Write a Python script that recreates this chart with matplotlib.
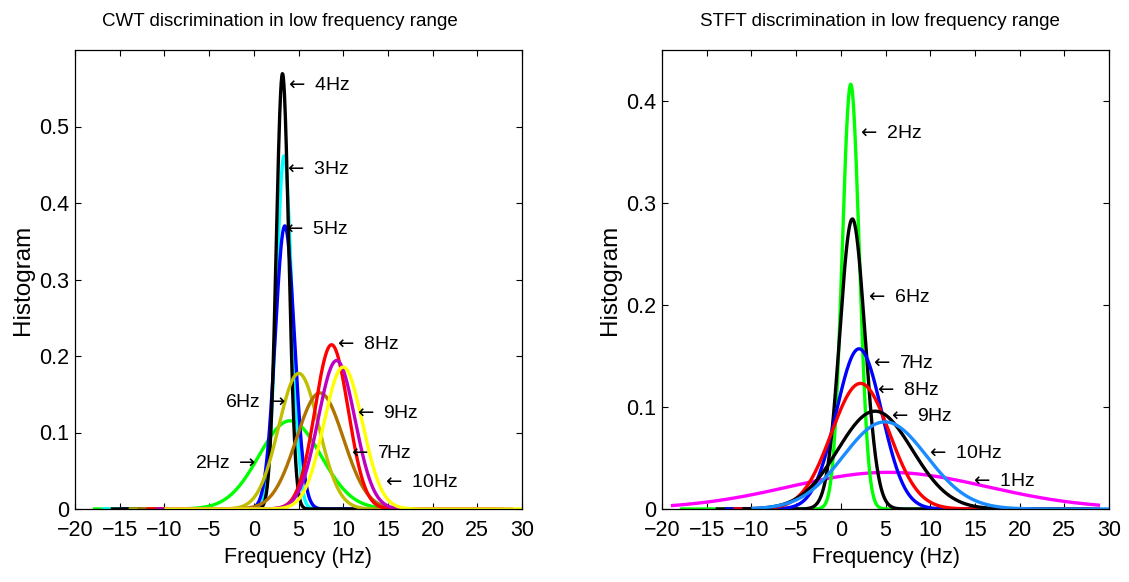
import numpy as np
import matplotlib
matplotlib.use('Agg')
import matplotlib.pyplot as plt
from matplotlib.ticker import FuncFormatter

# ---------------- data: CWT panel (normal pdf parameters per frequency) ----------------
cwt_names = ['2Hz', '3Hz', '5Hz', '4Hz', '6Hz', '7Hz', '8Hz', '9Hz', '10Hz']
cwt_mean = [4.05, 3.39, 3.47, 3.21, 5.03, 7.40, 8.70, 9.26, 10.00]
cwt_std = [3.46, 0.864, 1.078, 0.701, 2.25, 2.63, 1.858, 2.056, 2.15]
cwt_x_start = [-18, -17, -15, -16, -14, -13, -12, -11, -10]
cwt_x_end = [22, 23, 25, 24, 26, 27, 28, 29, 30]
cwt_colors = ['#00FF00', '#00FFFF', '#0000FF', '#000000', '#BFBF00',
              '#B07300', '#FF0000', '#BF00BF', '#FFFF00']

# ---------------- data: STFT panel ----------------
stft_names = ['1Hz', '2Hz', '6Hz', '7Hz', '8Hz', '9Hz', '10Hz']
stft_mean = [5.3, 1.11, 1.29, 2.04, 2.20, 3.83, 4.94]
stft_std = [11.1, 0.958, 1.403, 2.54, 3.24, 4.16, 4.67]
stft_x_start = [-19, -18, -14, -13, -12, -11, -10]
stft_x_end = [29, 22, 26, 27, 28, 29, 30]
stft_colors = ['#FF00FF', '#00FF00', '#000000', '#0000FF', '#FF0000',
               '#000000', '#1A8CFF']

# annotation labels (text, anchor x, anchor y, arrow side)
cwt_ann_text = ['4Hz', '3Hz', '5Hz', '8Hz', '9Hz', '7Hz', '10Hz', '6Hz', '2Hz']
cwt_ann_x = [3.5, 3.4, 3.3, 8.95, 11.2, 10.57, 14.3, 3.65, 0.32]
cwt_ann_y = [0.554, 0.444, 0.365, 0.215, 0.125, 0.0726, 0.0343, 0.1386, 0.0595]
cwt_ann_side = ['L', 'L', 'L', 'L', 'L', 'L', 'L', 'R', 'R']

stft_ann_text = ['2Hz', '6Hz', '7Hz', '8Hz', '9Hz', '10Hz', '1Hz']
stft_ann_x = [1.78, 2.7, 3.27, 3.7, 5.3, 9.53, 14.45]
stft_ann_y = [0.368, 0.2077, 0.143, 0.1158, 0.091, 0.0545, 0.0267]
stft_ann_side = ['L'] * 7

x_ticks = [-20, -15, -10, -5, 0, 5, 10, 15, 20, 25, 30]
cwt_yticks = [0, 0.1, 0.2, 0.3, 0.4, 0.5]
stft_yticks = [0, 0.1, 0.2, 0.3, 0.4]

FAM = ['Liberation Sans', 'DejaVu Sans']
plt.rcParams['font.family'] = FAM
plt.rcParams['axes.unicode_minus'] = True


def normpdf(x, mu, s):
    return np.exp(-0.5 * ((x - mu) / s) ** 2) / (s * np.sqrt(2 * np.pi))


fig = plt.figure(figsize=(11.29, 5.82), dpi=100)
W, H = 1129, 582
ax1 = fig.add_axes([75 / W, (H - 509) / H, 447 / W, 459 / H])
ax2 = fig.add_axes([662 / W, (H - 509) / H, 447 / W, 459 / H])


def draw(ax, means, stds, xs, xe, colors, ylim, yticks, title, title_x,
         ann_t, ann_x, ann_y, ann_side):
    for mu, s, a, b, c in zip(means, stds, xs, xe, colors):
        x = np.linspace(a, b, 1201)
        ax.plot(x, normpdf(x, mu, s), color=c, lw=2.4, solid_capstyle='butt')
    for t, x, y, sd in zip(ann_t, ann_x, ann_y, ann_side):
        if sd == 'L':
            ax.text(x, y, r'$\leftarrow$ ' + t, ha='left', va='center',
                    fontsize=14)
        else:
            ax.text(x, y, t + r' $\rightarrow$', ha='right', va='center',
                    fontsize=14)
    ax.set_xlim(-20, 30)
    ax.set_ylim(*ylim)
    ax.set_xticks(x_ticks)
    ax.set_yticks(yticks)
    ax.yaxis.set_major_formatter(FuncFormatter(lambda v, p: '%g' % v))
    ax.tick_params(direction='in', length=4, width=0.8, top=True, right=True,
                   labelsize=15.5, pad=8)
    ax.tick_params(axis='y', pad=4)
    for sp in ax.spines.values():
        sp.set_linewidth(0.9)
    ax.set_xlabel('Frequency (Hz)', fontsize=15.5, labelpad=4)
    ax.set_ylabel('Histogram', fontsize=17.5, labelpad=4)
    ax.set_title(title, fontsize=13.5, x=title_x, pad=17)


draw(ax1, cwt_mean, cwt_std, cwt_x_start, cwt_x_end, cwt_colors, (0, 0.6),
     cwt_yticks, 'CWT discrimination in low frequency range', 0.459,
     cwt_ann_text, cwt_ann_x, cwt_ann_y, cwt_ann_side)
draw(ax2, stft_mean, stft_std, stft_x_start, stft_x_end, stft_colors,
     (0, 0.45), stft_yticks, 'STFT discrimination in low frequency range',
     0.488, stft_ann_text, stft_ann_x, stft_ann_y, stft_ann_side)

fig.savefig('out.png', dpi=100)
